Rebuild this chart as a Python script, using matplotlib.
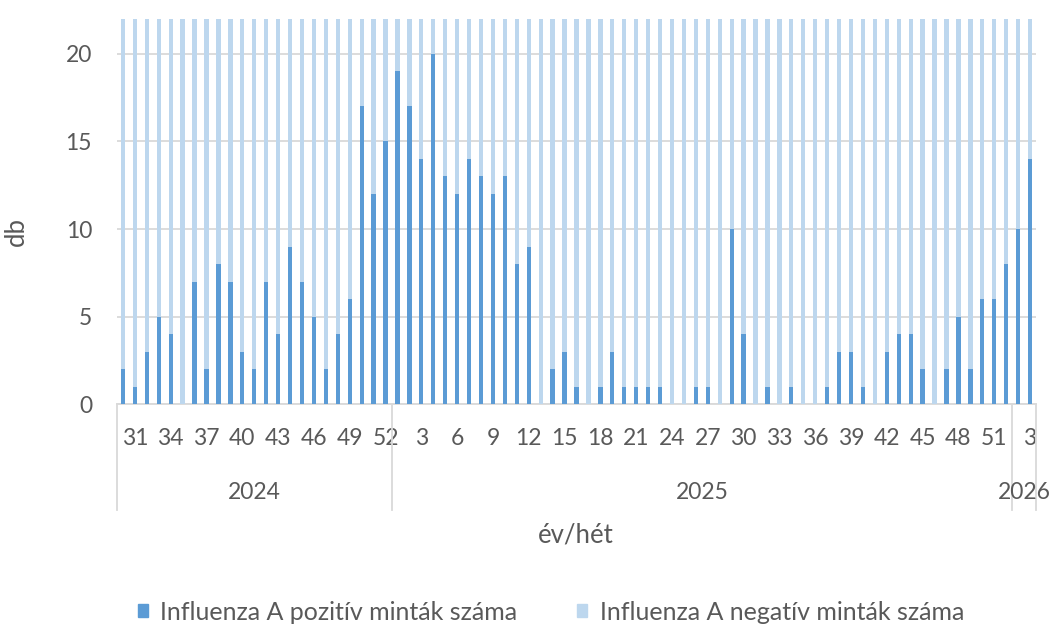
import matplotlib
matplotlib.use('Agg')
import matplotlib.pyplot as plt
from matplotlib.patches import Patch

plt.rcParams['font.family'] = ['Lato', 'DejaVu Sans']

# év / hét kategóriák
weeks_2024 = list(range(30, 53))
weeks_2025 = list(range(1, 53))
weeks_2026 = [2, 3]

# Influenza A pozitív minták száma
pos_2024 = [2, 1, 3, 5, 4, 0, 7, 2, 8, 7, 3, 2, 7, 4, 9, 7, 5, 2, 4, 6, 17, 12, 15]
pos_2025 = [19, 17, 14, 20, 13, 12, 14, 13, 12, 13, 8, 9, 0, 2, 3, 1, 0, 1, 3, 1,
            1, 1, 1, 0, 0, 1, 1, 0, 10, 4, 0, 1, 0, 1, 0, 0, 1, 3, 3, 1,
            0, 3, 4, 4, 2, 0, 2, 5, 2, 6, 6, 8]
pos_2026 = [10, 14]

# Influenza A negatív minták száma (a tengely 22-nél levágja)
neg_2024 = [38, 41, 36, 44, 39, 42, 37, 40, 35, 43, 41, 38, 36, 44, 40, 37, 42, 39, 41, 38, 35, 40, 37]
neg_2025 = [33, 36, 38, 31, 40, 37, 35, 39, 36, 34, 41, 38, 43, 40, 37, 42, 39, 44, 38, 41,
            36, 40, 43, 38, 35, 39, 42, 37, 34, 40, 38, 41, 36, 43, 39, 37, 42, 38, 40, 36,
            41, 39, 37, 42, 38, 40, 36, 39, 41, 37, 40, 38]
neg_2026 = [36, 39]

years = ['2024', '2025', '2026']

weeks = weeks_2024 + weeks_2025 + weeks_2026
pos = pos_2024 + pos_2025 + pos_2026
neg = neg_2024 + neg_2025 + neg_2026
year_sizes = [len(weeks_2024), len(weeks_2025), len(weeks_2026)]

dark = '#5B9BD5'
light = '#BDD7EE'
grid_c = '#D9D9D9'
text_c = '#595959'

fig = plt.figure(figsize=(10.54, 6.38), dpi=100)
ax = fig.add_axes([117 / 1054, 1 - 404.3 / 638, (1036 - 117) / 1054, (404.3 - 18.7) / 638])

x = list(range(len(weeks)))
ax.bar(x, pos, width=0.36, color=dark, zorder=3)
ax.bar(x, neg, width=0.36, bottom=pos, color=light, zorder=3)

ax.set_xlim(-0.5, len(weeks) - 0.5)
ax.set_ylim(0, 22)
ax.set_yticks([0, 5, 10, 15, 20])
ax.yaxis.grid(True, color=grid_c, linewidth=1.3, zorder=0)
for s in ['left', 'right', 'top']:
    ax.spines[s].set_visible(False)
ax.spines['bottom'].set_color(grid_c)
ax.spines['bottom'].set_linewidth(1.3)
ax.tick_params(axis='y', length=0, pad=18, labelsize=16.5, labelcolor=text_c)

# minden harmadik hét felirata
tick_idx = list(range(1, len(weeks), 3))
ax.set_xticks(tick_idx)
ax.set_xticklabels([str(weeks[i]) for i in tick_idx])
ax.tick_params(axis='x', length=0, pad=17, labelsize=16.5, labelcolor=text_c)

# év csoportok és elválasztók
trans = ax.get_xaxis_transform()
start = -0.5
edges = [start]
for yr, n in zip(years, year_sizes):
    ax.text(start + n / 2, -0.228, yr, transform=trans, ha='center', va='center',
            fontsize=16.5, color=text_c)
    start += n
    edges.append(start)
for e in edges:
    ax.plot([e, e], [0, -0.275], transform=trans, color=grid_c, linewidth=1.3,
            clip_on=False)

fig.text(576 / 1054, 1 - 535 / 638, 'év/hét', ha='center', va='center',
         fontsize=18.5, color=text_c)
fig.text(16.5 / 1054, 1 - 232 / 638, 'db', ha='center', va='center', rotation=90,
         fontsize=18.5, color=text_c)

handles = [Patch(color=dark), Patch(color=light)]
fig.legend(handles, ['Influenza A pozitív minták száma', 'Influenza A negatív minták száma'],
           loc='center', bbox_to_anchor=(551 / 1054, 1 - 612 / 638), ncol=2,
           frameon=False, fontsize=18, handlelength=0.4, handleheight=0.4,
           handletextpad=0.5, columnspacing=2.4, labelcolor=text_c)

fig.savefig('out.png', dpi=100)
